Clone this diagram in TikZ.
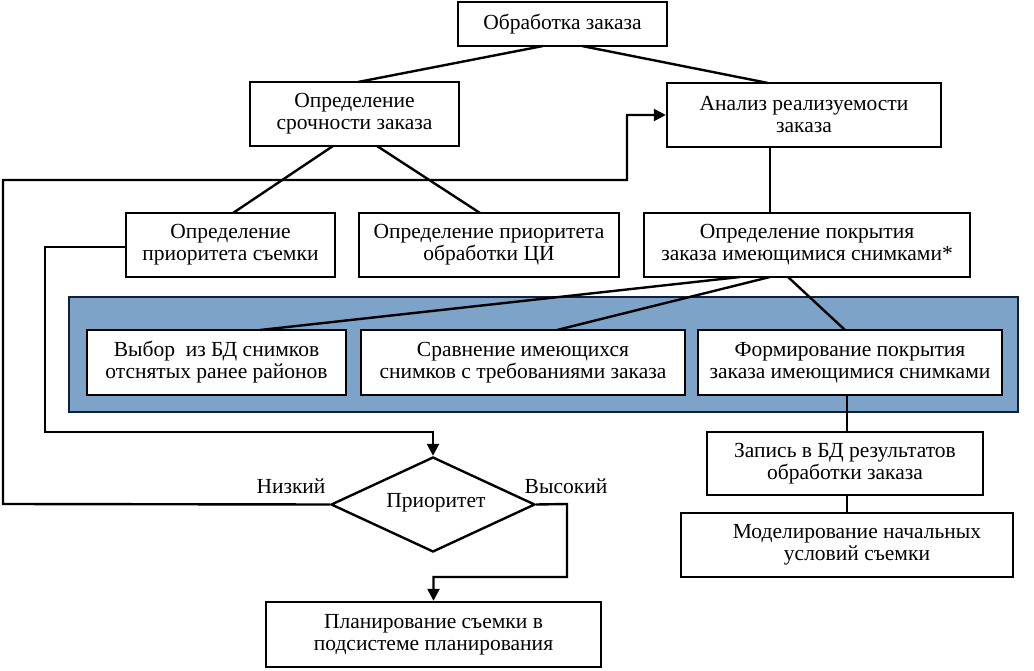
\documentclass[tikz,border=0pt]{standalone}
\usepackage{fontspec}
\setmainfont{Liberation Serif}
\usetikzlibrary{arrows.meta,shapes.geometric}
\definecolor{panelblue}{HTML}{7DA3C8}
\definecolor{panelnavy}{HTML}{10203C}
\tikzset{
  box/.style={draw=black, line width=2.4pt, fill=white, align=center, inner sep=0pt},
  conn/.style={draw=black, line width=2.4pt},
  arr/.style={conn, -{Triangle[length=12pt,width=12pt]}},
  lbl/.style={inner sep=0pt, align=center},
}
\newcommand{\bx}[6]{% name, x1, y1, x2, y2, text
  \node[box, minimum width={#4-#2}, minimum height={#5-#3}] (#1) at ({(#2+#4)/2},{(#3+#5)/2}) {#6};}
\begin{document}
\begin{tikzpicture}[x=1pt,y=-1pt,font=\fontsize{21.5}{22}\selectfont]
\useasboundingbox (0,0) rectangle (1034,671);
% blue panel
\node[draw=panelnavy, fill=panelblue, line width=2.6pt, minimum width=949pt, minimum height=115pt, inner sep=0pt] (panel) at (543.5,354.5) {};
% boxes
\bx{top}{458}{2}{667}{46}{Обработка заказа}
\bx{urg}{250}{82}{459}{146}{Определение\\срочности заказа}
\bx{ana}{667}{83}{941}{147}{Анализ реализуемости\\заказа}
\bx{psh}{126}{213}{335}{277}{Определение\\приоритета съемки}
\bx{pci}{359}{213}{619}{277}{Определение приоритета\\обработки ЦИ}
\bx{cov}{644}{213}{970}{277}{Определение покрытия\\заказа имеющимися снимками*}
\bx{sel}{87}{330}{346}{395}{Выбор\ \ из БД снимков\\отснятых ранее районов}
\bx{cmp}{361}{330}{685}{395}{Сравнение имеющихся\\снимков с требованиями заказа}
\bx{frm}{698}{330}{1002}{395}{Формирование покрытия\\заказа имеющимися снимками}
\bx{rec}{707}{432}{983}{495}{Запись в БД результатов\\обработки заказа}
\bx{mod}{681}{513}{1013}{577}{\hspace*{20pt}Моделирование начальных\\\hspace*{20pt}условий съемки}
\bx{pln}{266}{602}{601}{667}{Планирование съемки в\\подсистеме планирования}
% diamond
\node[draw=black, line width=2.4pt, diamond, aspect=2.17, minimum width=204pt, minimum height=95pt, inner sep=0pt] (pri) at (433,504.5) {};
\node[lbl] (prit) at (436,503) {Приоритет};
\node[lbl] (low) at (291,486) {Низкий};
\node[lbl] (high) at (566,486) {Высокий};
% tree connectors
\draw[conn] (543,46) -- (358,82);
\draw[conn] (582,46) -- (768,83);
\draw[conn] (333,146) -- (233,213);
\draw[conn] (377,146) -- (480,213);
\draw[conn] (770,147) -- (770,213);
\draw[conn] (740,277) -- (260,330);
\draw[conn] (770,277) -- (557,330);
\draw[conn] (788,277) -- (845,330);
\draw[conn] (847,395) -- (847,432);
\draw[conn] (847,495) -- (847,513);
% flow
\coordinate (l1) at (3,504);
\coordinate (l2) at (3,180);
\coordinate (l3) at (627,180);
\draw[arr] (pri.west) -- (l1) -- (l2) -- (l3) |- (ana.west);
\coordinate (s1) at (45,247);
\coordinate (s2) at (45,432);
\draw[arr] (psh.west |- s1) -- (s1) -- (s2) -| (pri.north);
\coordinate (h1) at (567,504);
\coordinate (h2) at (567,577);
\draw[arr] (pri.east) -- (h1) -- (h2) -| (pln.north);
\end{tikzpicture}
\end{document}
